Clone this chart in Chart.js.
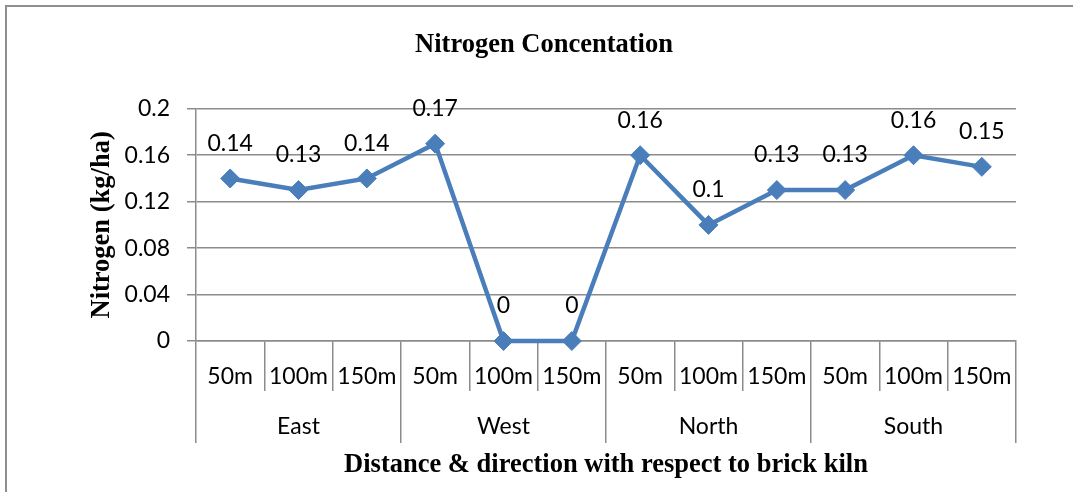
<!DOCTYPE html>
<html>
<head>
<meta charset="utf-8">
<script src="https://cdn.jsdelivr.net/npm/chart.js@4"></script>
<style>
  body { margin: 0; background: #fff; }
  #wrap { position: absolute; left: 0; top: 0; width: 1073px; height: 492px; }
  #frame { position: absolute; left: 5px; top: 5px; right: -10px; bottom: -10px;
           border-top: 2px solid #8e8e8e; border-left: 2px solid #8e8e8e; }
</style>
</head>
<body>
<div id="wrap">
  <canvas id="nitrogen" width="1073" height="492"></canvas>
  <div id="frame"></div>
</div>
<script>
// values
var distances = ["50m", "100m", "150m", "50m", "100m", "150m", "50m", "100m", "150m", "50m", "100m", "150m"];
var directions = ["East", "West", "North", "South"];
var nitrogen = [0.14, 0.13, 0.14, 0.17, 0, 0, 0.16, 0.1, 0.13, 0.13, 0.16, 0.15];
var yTicks = [0, 0.04, 0.08, 0.12, 0.16, 0.2];

var gridGray = '#8c8c8c';
var labelFont = { family: 'Lato', size: 23 };
var serifBold = { family: 'Liberation Serif', size: 26.5, weight: 'bold' };

// draws the value above every point
var pointLabels = {
  id: 'pointLabels',
  afterDatasetsDraw: function(chart) {
    var ctx = chart.ctx;
    var meta = chart.getDatasetMeta(0);
    ctx.save();
    ctx.font = '23px Lato';
    ctx.fillStyle = '#000';
    ctx.textAlign = 'center';
    ctx.textBaseline = 'middle';
    meta.data.forEach(function(pt, i) {
      ctx.fillText(String(nitrogen[i]), pt.x, pt.y - 35);
    });
    ctx.restore();
  }
};

window.onload = function() {
  var ctx = document.getElementById('nitrogen').getContext('2d');

  var chart = new Chart(ctx, {
    type: 'line',
    data: {
      labels: distances,
      datasets: [{
        label: 'Nitrogen',
        data: nitrogen,
        borderColor: '#4a7ebb',
        backgroundColor: '#4a7ebb',
        borderWidth: 4.5,
        pointStyle: 'rectRot',
        pointRadius: 9.5,
        pointBorderWidth: 1,
        tension: 0,
        clip: false
      }]
    },
    options: {
      responsive: false,
      animation: false,
      layout: { padding: { left: 72, right: 57, top: 0, bottom: 0 } },
      plugins: {
        legend: { display: false },
        tooltip: { enabled: false },
        title: {
          display: true,
          text: 'Nitrogen Concentation',
          color: '#000',
          font: serifBold,
          padding: { top: 29, bottom: 48 }
        }
      },
      scales: {
        y: {
          min: 0,
          max: 0.2,
          afterBuildTicks: function(scale) {
            scale.ticks = yTicks.map(function(v) { return { value: v }; });
          },
          afterFit: function(scale) { scale.width = 124; },
          ticks: {
            color: '#000',
            font: labelFont,
            padding: 17,
            callback: function(v) { return String(Number(v.toFixed(2))); }
          },
          grid: { color: gridGray, lineWidth: 1.5, tickLength: 9 },
          border: { color: gridGray, width: 1.5 },
          title: {
            display: true,
            text: 'Nitrogen (kg/ha)',
            color: '#000',
            font: serifBold,
            padding: { top: 14, bottom: 0 }
          }
        },
        x: {
          weight: 0,
          offset: true,
          afterFit: function(scale) { scale.height = 50; },
          ticks: { color: '#000', font: labelFont, padding: -28, maxRotation: 0, autoSkip: false },
          grid: { offset: true, drawOnChartArea: false, color: gridGray, lineWidth: 1.5, tickLength: 50 },
          border: { color: gridGray, width: 1.5 }
        },
        x2: {
          type: 'category',
          position: 'bottom',
          weight: 1,
          labels: directions,
          offset: true,
          afterFit: function(scale) { scale.height = 101; },
          ticks: { color: '#000', font: labelFont, padding: -30, maxRotation: 0, autoSkip: false },
          grid: { offset: true, drawOnChartArea: false, color: gridGray, lineWidth: 1.5, tickLength: 52 },
          border: { display: false },
          title: {
            display: true,
            text: 'Distance & direction with respect to brick kiln',
            color: '#000',
            font: serifBold,
            padding: { top: 0, bottom: 11 }
          }
        }
      }
    },
    plugins: [pointLabels]
  });
};
</script>
</body>
</html>
